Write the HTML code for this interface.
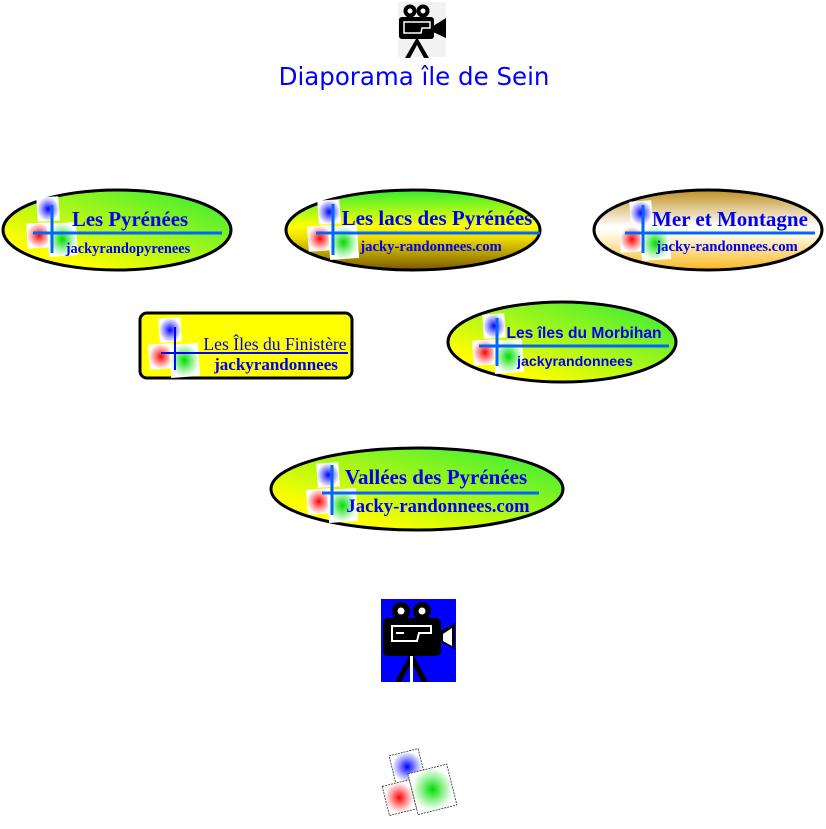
<!DOCTYPE html>
<html><head><meta charset="utf-8"><style>
html,body{margin:0;padding:0;background:#fff;width:826px;height:829px;overflow:hidden}
svg{display:block}
</style></head><body>
<svg width="826" height="829" viewBox="0 0 826 829" xmlns="http://www.w3.org/2000/svg">
<defs>
<radialGradient id="rb" r="0.6"><stop offset="0" stop-color="#0000ff"/><stop offset="0.45" stop-color="#9090ff"/><stop offset="0.85" stop-color="#fff"/></radialGradient>
<radialGradient id="rr" r="0.6"><stop offset="0" stop-color="#ff0000"/><stop offset="0.45" stop-color="#ff9090"/><stop offset="0.85" stop-color="#fff"/></radialGradient>
<radialGradient id="rg" r="0.6"><stop offset="0" stop-color="#00dd00"/><stop offset="0.45" stop-color="#90f090"/><stop offset="0.85" stop-color="#fff"/></radialGradient>
<linearGradient id="gy" x1="0" y1="1" x2="1" y2="0"><stop offset="0.2" stop-color="#ffff00"/><stop offset="0.9" stop-color="#44ee33"/></linearGradient>
<linearGradient id="g2" x1="0" y1="0" x2="0" y2="1"><stop offset="0" stop-color="#33ee33"/><stop offset="0.45" stop-color="#ffff00"/><stop offset="0.6" stop-color="#eedd00"/><stop offset="1" stop-color="#7a5a00"/></linearGradient>
<linearGradient id="g3" x1="0" y1="0" x2="0" y2="1"><stop offset="0" stop-color="#c09020"/><stop offset="0.45" stop-color="#ffffff"/><stop offset="0.55" stop-color="#fffbe8"/><stop offset="1" stop-color="#f8b820"/></linearGradient>
<g id="logo">
<rect x="10" y="0" width="22" height="24" fill="url(#rb)" transform="rotate(-4 21 11)"/>
<rect x="0" y="26" width="24" height="25" fill="url(#rr)" transform="rotate(-4 11 39)"/>
<rect x="21" y="26" width="29" height="33" fill="url(#rg)" transform="rotate(-4 35 43)"/>
</g>
</defs>

<!-- top camera -->
<rect x="398" y="2" width="48" height="55" fill="#f2f2f2"/>
<g transform="translate(398,2)">
<circle cx="12" cy="9" r="6.5" fill="#000"/><circle cx="25" cy="9" r="6.5" fill="#000"/>
<circle cx="12" cy="9" r="2.5" fill="#fff"/><circle cx="25" cy="9" r="2.5" fill="#fff"/>
<rect x="1" y="15" width="35" height="22" rx="3" fill="#000"/>
<polygon points="35,24 48,16 48,36 35,30" fill="#000"/>
<polygon points="6,20 32,20 32,26 24,26 23,31 6,31" fill="none" stroke="#fff" stroke-width="1.5"/>
<polygon points="18,37 7,56 12,56 19,43 26,56 31,56 20,37" fill="#000"/>
</g>
<text x="414" y="85" text-anchor="middle" font-family="DejaVu Sans, sans-serif" font-size="24.5" fill="#0000ff">Diaporama île de Sein</text>

<!-- ellipse 1 -->
<ellipse cx="117" cy="230" rx="114" ry="40" fill="url(#gy)" stroke="#000" stroke-width="3"/>
<use href="#logo" x="27" y="197"/>
<line x1="52" y1="205" x2="52" y2="253" stroke="#0066ff" stroke-width="3"/>
<line x1="33" y1="233" x2="222" y2="233" stroke="#0066ff" stroke-width="3"/>
<text x="130" y="226" text-anchor="middle" font-family="Liberation Serif,serif" font-weight="bold" font-size="20.8" fill="#0000ee">Les Pyrénées</text>
<text x="128" y="253" text-anchor="middle" font-family="Liberation Serif,serif" font-weight="bold" font-size="14.4" fill="#0000ee">jackyrandopyrenees</text>

<!-- ellipse 2 -->
<ellipse cx="413" cy="230" rx="127" ry="40" fill="url(#g2)" stroke="#000" stroke-width="3"/>
<use href="#logo" x="308" y="200"/>
<line x1="333" y1="204" x2="333" y2="255" stroke="#0066ff" stroke-width="3"/>
<line x1="316" y1="233" x2="540" y2="233" stroke="#0066ff" stroke-width="3"/>
<text x="437" y="225" text-anchor="middle" font-family="Liberation Serif,serif" font-weight="bold" font-size="21" fill="#0000ee">Les lacs des Pyrénées</text>
<text x="431" y="251" text-anchor="middle" font-family="Liberation Serif,serif" font-weight="bold" font-size="14.7" fill="#0000ee">jacky-randonnees.com</text>

<!-- ellipse 3 -->
<ellipse cx="708" cy="230" rx="114" ry="40" fill="url(#g3)" stroke="#000" stroke-width="3"/>
<use href="#logo" x="620" y="201"/>
<line x1="643" y1="205" x2="643" y2="253" stroke="#0066ff" stroke-width="3"/>
<line x1="625" y1="233" x2="815" y2="233" stroke="#0066ff" stroke-width="3"/>
<text x="730" y="226" text-anchor="middle" font-family="Liberation Serif,serif" font-weight="bold" font-size="21" fill="#0000ee">Mer et Montagne</text>
<text x="727" y="251" text-anchor="middle" font-family="Liberation Serif,serif" font-weight="bold" font-size="14.7" fill="#0000ee">jacky-randonnees.com</text>

<!-- rect -->
<rect x="140" y="313" width="212" height="65" rx="7" fill="#ffff00" stroke="#000" stroke-width="3"/>
<use href="#logo" x="149" y="318"/>
<line x1="175" y1="327" x2="175" y2="370" stroke="#0000ff" stroke-width="2"/>
<line x1="161" y1="353" x2="348" y2="353" stroke="#0000ff" stroke-width="2"/>
<text x="275" y="350" text-anchor="middle" font-family="Liberation Serif,serif" font-size="17.6" fill="#0000ee">Les Îles du Finistère</text>
<text x="276" y="370" text-anchor="middle" font-family="Liberation Serif,serif" font-weight="bold" font-size="17" fill="#0000ee">jackyrandonnees</text>

<!-- ellipse 5 -->
<ellipse cx="562" cy="342" rx="114" ry="40" fill="url(#gy)" stroke="#000" stroke-width="3"/>
<use href="#logo" x="473" y="314"/>
<line x1="497" y1="318" x2="497" y2="366" stroke="#0066ff" stroke-width="3"/>
<line x1="479" y1="346" x2="669" y2="346" stroke="#0066ff" stroke-width="3"/>
<text x="584" y="338" text-anchor="middle" font-family="Liberation Sans,sans-serif" font-weight="bold" font-size="15.6" fill="#0000ee">Les îles du Morbihan</text>
<text x="575" y="366" text-anchor="middle" font-family="Liberation Sans,sans-serif" font-weight="bold" font-size="14.2" fill="#0000ee">jackyrandonnees</text>

<!-- ellipse 6 -->
<ellipse cx="417" cy="489" rx="146" ry="41" fill="url(#gy)" stroke="#000" stroke-width="3"/>
<use href="#logo" x="307" y="463"/>
<line x1="332" y1="465" x2="332" y2="515" stroke="#0066ff" stroke-width="3"/>
<line x1="322" y1="493" x2="539" y2="493" stroke="#0066ff" stroke-width="3"/>
<text x="436" y="484" text-anchor="middle" font-family="Liberation Serif,serif" font-weight="bold" font-size="21" fill="#0000ee">Vallées des Pyrénées</text>
<text x="438" y="512" text-anchor="middle" font-family="Liberation Serif,serif" font-weight="bold" font-size="18.7" fill="#0000ee">Jacky-randonnees.com</text>

<!-- big camera -->
<rect x="381" y="599" width="75" height="83" fill="#0000ff"/>
<g transform="translate(381,599)">
<circle cx="20" cy="12" r="9" fill="#000"/><circle cx="41" cy="12" r="9" fill="#000"/>
<circle cx="20" cy="12" r="3.5" fill="#fff"/><circle cx="41" cy="12" r="3.5" fill="#fff"/>
<rect x="2" y="19" width="58" height="38" rx="5" fill="#000"/>
<polygon points="58,33 74,24 74,50 58,42" fill="#000"/>
<polygon points="62,35 71,29 71,47 62,42" fill="#fff"/>
<polygon points="11,27 50,27 50,34 38,34 36,42 11,42" fill="none" stroke="#fff" stroke-width="2"/>
<rect x="15" y="33" width="8" height="2" fill="#fff"/>
<polygon points="28,57 14,83 20,83 29,66 29,83 32,83 32,66 41,83 47,83 33,57" fill="#000"/>
<rect x="29" y="57" width="3" height="26" fill="#fff"/>
</g>

<!-- bottom logo -->
<g transform="translate(383,747) rotate(-14 38 38)">
<rect x="14" y="2" width="30" height="30" fill="url(#rb)" stroke="#333" stroke-width="0.8" stroke-dasharray="2 1"/>
<rect x="0" y="30" width="28" height="30" fill="url(#rr)" stroke="#333" stroke-width="0.8" stroke-dasharray="2 1"/>
<rect x="28" y="24" width="40" height="42" fill="url(#rg)" stroke="#333" stroke-width="0.8" stroke-dasharray="2 1"/>
</g>
</svg>
</body></html>
